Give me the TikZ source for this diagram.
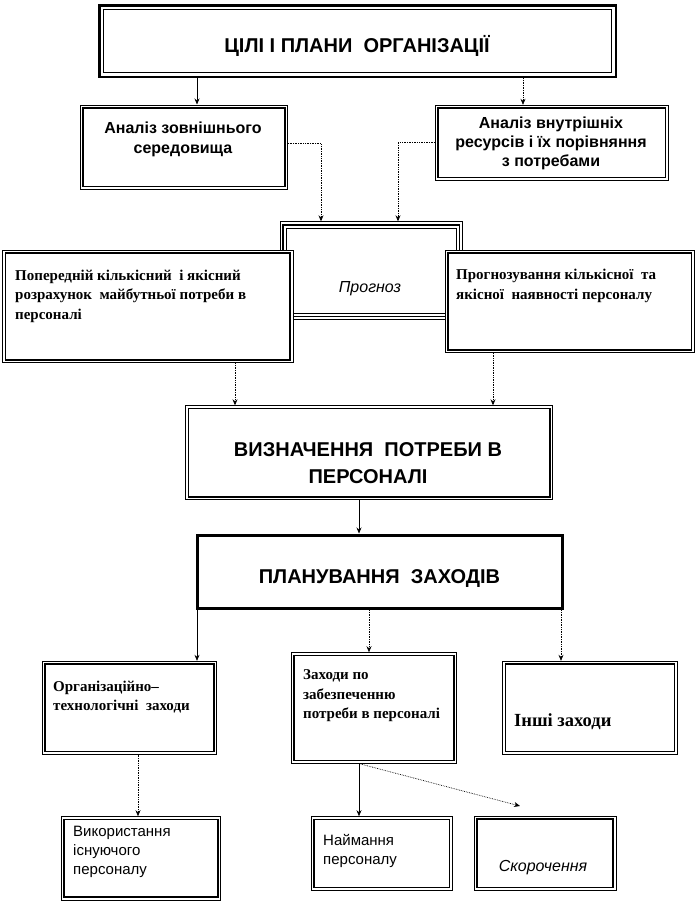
\documentclass[tikz,border=0pt]{standalone}
\usepackage{fontspec}
\setmainfont{Liberation Serif}
\setsansfont{Liberation Sans}
\usepackage{tikz}
\usetikzlibrary{arrows.meta,positioning}

\begin{document}
\begin{tikzpicture}[
        x=1pt, y=-1pt,
        box/.style={rectangle, draw, line width=0.8pt, fill=white, inner sep=0pt, anchor=north west},
        heavybox/.style={box, line width=2.4pt},
        inner/.style={line width=1.8pt},
        title/.style={font=\sffamily\bfseries\fontsize{20}{27}\selectfont, align=center, inner sep=0pt},
        head/.style={font=\sffamily\bfseries\fontsize{16}{20}\selectfont, align=center, inner sep=0pt},
        note/.style={font=\rmfamily\bfseries\fontsize{15}{19.5}\selectfont, align=left, anchor=west, inner sep=0pt},
        plain/.style={font=\sffamily\fontsize{15}{19}\selectfont, align=left, anchor=west, inner sep=0pt},
        slant/.style={font=\sffamily\itshape\fontsize{16}{19}\selectfont, inner sep=0pt},
        arrow/.style={-{Stealth[length=6pt,width=5pt]}, line width=0.7pt},
        dotarrow/.style={arrow, densely dotted}
    ]
        \fill[white] (0,0) rectangle (700,903);
        \useasboundingbox (0,0) rectangle (700,903);

        % Goals
        \node[heavybox, minimum width=516.2pt, minimum height=71.4pt] (goals) at (98.3,4.3) {};
        \draw[line width=0.8pt] ([shift={(5.5,5.5)}]goals.north west) rectangle ([shift={(-5.5,-5.5)}]goals.south east);

        % Analysis
        \node[box, minimum width=207.5pt, minimum height=84.3pt] (extern) at (79.5,104.5) {};
        \node[box, minimum width=233pt, minimum height=75pt] (intern) at (434.8,104.8) {};

        % Forecast (under the two side boxes)
        \node[box, minimum width=182.8pt, minimum height=98pt] (prognoz) at (279.5,221.3) {};
        \draw[inner] ([shift={(3.6,3.6)}]prognoz.north west) rectangle ([shift={(-3.6,-3.6)}]prognoz.south east);
        \draw[line width=0.8pt] ([shift={(6.6,6.6)}]prognoz.north west) rectangle ([shift={(-6.6,-6.6)}]prognoz.south east);
        \node[box, minimum width=290.5pt, minimum height=112.8pt] (prev) at (2.2,249.5) {};
        \node[box, minimum width=249.1pt, minimum height=102.4pt] (forecast) at (444.7,249.8) {};

        % Need
        \node[box, minimum width=367pt, minimum height=93.7pt] (need) at (185.3,405.3) {};

        % Planning
        \node[heavybox, line width=2.3pt, minimum width=366.3pt, minimum height=74.3pt] (plan) at (195.5,533.5) {};
        \draw[line width=0.8pt] ([shift={(2.9,2.9)}]plan.north west) rectangle ([shift={(-2.9,-2.9)}]plan.south east);

        % Measures
        \node[box, minimum width=174.4pt, minimum height=93pt] (org) at (41.8,660.8) {};
        \node[box, minimum width=165.4pt, minimum height=110.6pt] (supply) at (290.8,652.2) {};
        \node[box, minimum width=174.6pt, minimum height=93pt] (other) at (502.2,660.8) {};
        \node[box, minimum width=159.4pt, minimum height=83.3pt] (use) at (60.8,816.2) {};
        \node[box, minimum width=141.3pt, minimum height=73.6pt] (hire) at (310.5,816.2) {};
        \node[box, minimum width=141.7pt, minimum height=74.3pt] (cut) at (473.8,815.5) {};

        % inner frames
        \foreach \n in {extern,intern,prev,forecast,need,org,supply,other,use,hire,cut}
            \draw[inner] ([shift={(3.2,3.2)}]\n.north west) rectangle ([shift={(-3.2,-3.2)}]\n.south east);

        % Texts
        \node[title] (goalsT) at (357,46) {ЦІЛІ І ПЛАНИ~ ОРГАНІЗАЦІЇ};
        \node[head] (externT) at (183,139.5) {Аналіз зовнішнього\\середовища};
        \node[head, font=\sffamily\bfseries\fontsize{16}{19}\selectfont] (internT) at (551,143) {Аналіз внутрішніх\\ресурсів і їх порівняння\\з потребами};
        \node[slant] (prognozT) at (370,289) {Прогноз};
        \node[note] (prevT) at (15,296) {Попередній кількісний~ і якісний\\розрахунок~ майбутньої потреби в\\персоналі};
        \node[note] (forecastT) at (456,286) {Прогнозування кількісної~ та\\якісної~ наявності персоналу};
        \node[title] (needT) at (368,463.5) {ВИЗНАЧЕННЯ~ ПОТРЕБИ В\\ПЕРСОНАЛІ};
        \node[title] (planT) at (379.5,579) {ПЛАНУВАННЯ~ ЗАХОДІВ};
        \node[note] (orgT) at (53,697) {Організаційно–\\технологічні~ заходи};
        \node[note] (supplyT) at (303,696) {Заходи по\\забезпеченню\\потреби в персоналі};
        \node[note, font=\rmfamily\bfseries\fontsize{18.5}{22}\selectfont] (otherT) at (514,722) {Інші заходи};
        \node[plain] (useT) at (73,852) {Використання\\існуючого\\персоналу};
        \node[plain] (hireT) at (323,851) {Наймання\\персоналу};
        \node[slant] (cutT) at (543,868) {Скорочення};

        % connector columns
        \coordinate (cA) at (197,0);
        \coordinate (cB) at (523,0);
        \coordinate (cC) at (321,0);
        \coordinate (cD) at (398,0);
        \coordinate (cE) at (235,0);
        \coordinate (cF) at (493,0);
        \coordinate (cG) at (359,0);
        \coordinate (cH) at (369,0);
        \coordinate (cI) at (561,0);
        \coordinate (cK) at (138,0);
        \coordinate (cutend) at (520,806);

        % Arrows
        \draw[arrow] (goals.south -| cA) -- (extern.north -| cA);
        \draw[dotarrow] (goals.south -| cB) -- (intern.north -| cB);
        \draw[dotarrow] ([yshift=3.6pt]extern.east) -| (prognoz.north -| cC);
        \draw[dotarrow] (intern.west) -| (prognoz.north -| cD);
        \draw[dotarrow] (prev.south -| cE) -- (need.north -| cE);
        \draw[dotarrow] (forecast.south -| cF) -- (need.north -| cF);
        \draw[arrow] (need.south -| cG) -- (plan.north -| cG);
        \draw[arrow] (plan.south -| cA) -- (org.north -| cA);
        \draw[dotarrow] (plan.south -| cH) -- (supply.north -| cH);
        \draw[dotarrow] (plan.south -| cI) -- (other.north -| cI);
        \draw[dotarrow] (org.south -| cK) -- (use.north -| cK);
        \draw[arrow] (supply.south -| cG) -- (hire.north -| cG);
        \draw[dotarrow] (supply.south -| cG) -- (cutend);
    \end{tikzpicture}
\end{document}
